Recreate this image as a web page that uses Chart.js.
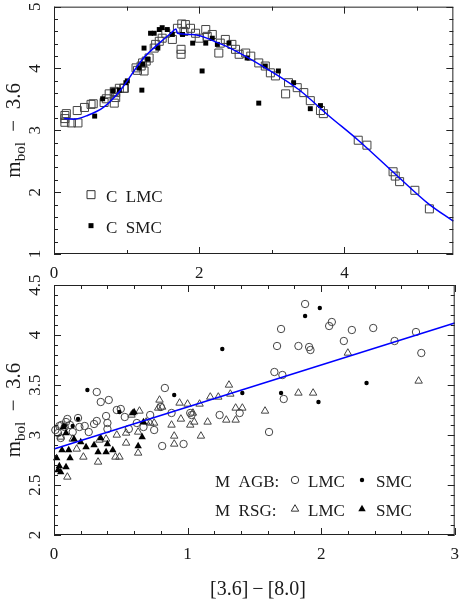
<!DOCTYPE html>
<html>
<head>
<meta charset="utf-8">
<script src="https://cdn.jsdelivr.net/npm/chart.js@4/dist/chart.umd.min.js"></script>
<style>
  body { margin: 0; background: #fff; }
  .wrap { position: relative; width: 460px; height: 600px; }
  canvas { position: absolute; left: 0; }
  #top-panel { top: 0; }
  #bottom-panel { top: 262px; }
</style>
</head>
<body>
<div class="wrap">
<canvas id="top-panel" width="460" height="280"></canvas>
<canvas id="bottom-panel" width="460" height="338"></canvas>
</div>
<script>
// top panel: carbon stars
var cLmcX = [0.15, 0.15, 0.15, 0.17, 0.24, 0.33, 0.32, 0.42, 0.51, 0.54, 0.69, 0.72, 0.76, 0.83, 0.85, 0.83, 0.90, 0.96, 0.97, 0.85,
  1.13, 1.15, 1.20, 1.24, 1.27, 1.22, 1.31, 1.38, 1.40, 1.45, 1.49, 1.54, 1.63, 1.75, 1.75, 1.70, 1.76, 1.81, 1.79, 1.88,
  1.95, 2.00, 2.09, 2.11, 2.18, 2.27, 2.29, 2.36, 2.45, 2.50, 2.55, 2.64, 2.71, 2.82, 2.91, 2.98, 3.05, 3.19, 3.23, 3.35,
  3.44, 3.53, 3.67, 3.71, 4.19, 4.31, 4.67, 4.70, 4.76, 4.97, 5.17];
var cLmcY = [3.24, 3.19, 3.13, 3.27, 3.12, 3.12, 3.32, 3.37, 3.42, 3.43, 3.45, 3.51, 3.59, 3.44, 3.53, 3.63, 3.68, 3.68, 3.68, 3.61,
  4.01, 3.97, 4.04, 3.96, 4.12, 4.09, 4.17, 4.33, 4.39, 4.44, 4.49, 4.57, 4.47, 4.31, 4.23, 4.65, 4.72, 4.71, 4.60, 4.65,
  4.57, 4.49, 4.63, 4.52, 4.55, 4.25, 4.41, 4.47, 4.39, 4.31, 4.23, 4.25, 4.20, 4.09, 4.04, 3.93, 3.88, 3.59, 3.77, 3.69,
  3.61, 3.48, 3.32, 3.27, 2.84, 2.76, 2.33, 2.26, 2.17, 2.03, 1.73];
var cSmcX = [0.56, 0.67, 0.81, 0.90, 0.99, 1.01, 1.21, 1.17, 1.22, 1.29, 1.24, 1.33, 1.38, 1.45, 1.49, 1.56, 1.43, 1.77, 1.91, 2.04,
  2.09, 2.25, 2.41, 2.66, 2.82, 2.91, 3.09, 3.30, 3.53, 3.67, 2.18, 1.63];
var cSmcY = [3.23, 3.51, 3.64, 3.65, 3.77, 3.80, 3.65, 4.01, 4.07, 4.15, 4.33, 4.57, 4.57, 4.63, 4.66, 4.63, 4.33, 4.55, 4.41, 3.96,
  4.41, 4.39, 4.41, 4.17, 3.44, 4.04, 3.96, 3.77, 3.35, 3.40, 4.49, 4.55];
var fitTopX = [0.14, 0.27, 0.46, 0.68, 0.91, 1.22, 1.45, 1.61, 1.68, 1.70, 1.91, 2.27, 2.46, 2.91, 3.37, 3.78, 4.19, 4.74, 5.15, 5.5];
var fitTopY = [3.19, 3.18, 3.24, 3.37, 3.64, 4.15, 4.41, 4.57, 4.64, 4.57, 4.55, 4.41, 4.31, 4.01, 3.66, 3.24, 2.84, 2.25, 1.82, 1.53];

// bottom panel: M-type stars
var agbLmcX = [0.01, 0.05, 0.055, 0.10, 0.18, 0.23, 0.26, 0.30, 0.32, 0.32, 0.35, 0.41, 0.39, 0.40, 0.40, 0.47, 0.50, 0.53, 0.56, 0.62,
  0.67, 0.72, 0.75, 0.81, 0.83, 0.80, 0.88, 0.97, 1.02, 1.03, 1.24, 1.39, 1.61, 1.65, 1.71, 1.72, 1.67, 1.70, 1.83, 1.88,
  1.91, 1.92, 2.06, 2.08, 2.17, 2.23, 2.39, 2.55, 2.71, 2.75, 0.04, 0.08, 0.12, 0.14, 0.19, 0.03, 0.09];
var agbLmcY = [3.05, 2.97, 3.10, 3.16, 3.17, 3.09, 3.03, 3.11, 3.14, 3.43, 3.33, 3.35, 3.19, 3.12, 3.06, 3.25, 3.26, 3.18, 3.06, 3.12,
  3.08, 3.20, 3.05, 2.89, 3.47, 3.28, 3.22, 2.91, 3.22, 3.20, 3.20, 3.22, 3.03, 3.63, 3.60, 3.36, 3.89, 4.06, 3.89, 4.31,
  3.88, 3.85, 4.09, 4.13, 3.94, 4.05, 4.07, 3.94, 4.03, 3.82, 3.09, 3.08, 3.10, 3.03, 3.08, 3.02, 3.13];
var agbSmcX = [0.25, 0.18, 0.14, 0.08, 0.49, 0.90, 1.26, 1.41, 1.70, 1.88, 1.99, 1.98, 2.34];
var agbSmcY = [3.45, 3.16, 3.09, 3.09, 3.23, 3.40, 3.86, 3.42, 3.42, 4.19, 4.27, 3.33, 3.52];
var rsgLmcX = [0.10, 0.05, 0.14, 0.17, 0.22, 0.33, 0.34, 0.39, 0.47, 0.46, 0.49, 0.54, 0.54, 0.58, 0.64, 0.63, 0.63, 0.69, 0.72, 0.75,
  0.79, 0.78, 0.81, 0.88, 0.90, 0.90, 0.94, 0.95, 1.00, 1.02, 1.04, 1.05, 1.09, 1.10, 1.15, 1.17, 1.23, 1.29, 1.31, 1.32,
  1.36, 1.36, 1.41, 1.58, 1.83, 1.94, 2.20, 2.73];
var rsgLmcY = [2.58, 2.98, 2.96, 2.86, 2.78, 2.73, 2.95, 2.96, 3.00, 2.78, 2.78, 3.02, 2.92, 3.20, 3.24, 3.03, 2.82, 3.13, 3.12, 3.12,
  3.35, 3.27, 3.28, 3.10, 2.99, 2.91, 3.32, 3.16, 3.31, 3.10, 3.22, 3.13, 3.31, 2.99, 3.13, 3.38, 3.38, 3.15, 3.50, 3.41,
  3.15, 3.27, 3.27, 3.24, 3.42, 3.42, 3.82, 3.54];
var rsgSmcX = [0.02, 0.04, 0.05, 0.09, 0.06, 0.11, 0.12, 0.09, 0.07, 0.15, 0.20, 0.24, 0.30, 0.33, 0.35, 0.39, 0.40, 0.44, 0.59, 0.63,
  0.66, 0.67, 0.60, 0.03];
var rsgSmcY = [2.77, 2.69, 2.63, 2.68, 2.85, 2.85, 2.77, 3.02, 3.08, 2.96, 2.93, 2.88, 2.90, 2.83, 2.97, 2.83, 2.91, 2.85, 3.22, 2.89,
  2.98, 3.13, 3.23, 2.65];
var fitBotX = [0, 3];
var fitBotY = [2.86, 4.12];

// tick labels
var topXTicks = ['0', '2', '4'];
var topYTicks = ['1', '2', '3', '4', '5'];
var botXTicks = ['0', '1', '2', '3'];
var botYTicks = ['2', '2.5', '3', '3.5', '4', '4.5'];

var INK = '#1a1a1a';
var SERIF = '"Liberation Serif", "Times New Roman", serif';

function zip(xs, ys) {
  return xs.map(function (x, i) { return { x: x, y: ys[i] }; });
}

function symbol(ctx, kind, x, y) {
  ctx.save();
  ctx.strokeStyle = '#333';
  ctx.fillStyle = '#000';
  ctx.lineWidth = 1;
  ctx.beginPath();
  if (kind == 'openSquare') {
    ctx.rect(x - 4, y - 4, 8, 8); ctx.stroke();
  } else if (kind == 'filledSquare') {
    ctx.rect(x - 2.5, y - 2.5, 5, 5); ctx.fill();
  } else if (kind == 'openCircle') {
    ctx.arc(x, y, 3.7, 0, Math.PI * 2); ctx.stroke();
  } else if (kind == 'dot') {
    ctx.arc(x, y, 2.2, 0, Math.PI * 2); ctx.fill();
  } else {
    var r = 4.3;
    ctx.moveTo(x, y - r);
    ctx.lineTo(x + r * 0.866, y + r * 0.5);
    ctx.lineTo(x - r * 0.866, y + r * 0.5);
    ctx.closePath();
    if (kind == 'openTriangle') ctx.stroke(); else ctx.fill();
  }
  ctx.restore();
}

// frame with inward ticks on all sides, rotated y labels, titles, legend
function framePlugin(o) {
  return {
    id: 'frame',
    afterDraw: function (chart) {
      var ctx = chart.ctx, a = chart.chartArea, xs = chart.scales.x, ys = chart.scales.y;
      ctx.save();
      ctx.strokeStyle = '#222';
      ctx.lineWidth = 1;
      ctx.strokeRect(a.left + 0.5, a.top + 0.5, a.right - a.left - 1, a.bottom - a.top - 1);

      function ticks(scale, minor, major, horiz) {
        var n = Math.round((scale.max - scale.min) / minor);
        for (var i = 0; i <= n; i++) {
          var v = scale.min + i * minor;
          var isMajor = Math.abs(v / major - Math.round(v / major)) < 1e-6;
          var len = isMajor ? 7 : 4;
          var p = Math.round(scale.getPixelForValue(v)) + 0.5;
          ctx.beginPath();
          if (horiz) {
            ctx.moveTo(p, a.bottom); ctx.lineTo(p, a.bottom - len);
            ctx.moveTo(p, a.top); ctx.lineTo(p, a.top + len);
          } else {
            ctx.moveTo(a.left, p); ctx.lineTo(a.left + len, p);
            ctx.moveTo(a.right, p); ctx.lineTo(a.right - len, p);
          }
          ctx.stroke();
        }
      }
      ticks(xs, o.xMinor, o.xMajor, true);
      ticks(ys, o.yMinor, o.yMajor, false);

      ctx.fillStyle = INK;
      ctx.font = '17px ' + SERIF;
      ctx.textAlign = 'center';
      ctx.textBaseline = 'alphabetic';
      o.xLabels.forEach(function (t) {
        ctx.fillText(t, xs.getPixelForValue(parseFloat(t)), a.bottom + 24);
      });
      o.yLabels.forEach(function (t) {
        ctx.save();
        ctx.translate(40, ys.getPixelForValue(parseFloat(t)));
        ctx.rotate(-Math.PI / 2);
        ctx.fillText(t, 0, 0);
        ctx.restore();
      });

      // y title: m_bol - 3.6
      ctx.save();
      ctx.translate(20, (a.top + a.bottom) / 2);
      ctx.rotate(-Math.PI / 2);
      ctx.textAlign = 'left';
      var big = '21px ' + SERIF, small = '15px ' + SERIF;
      ctx.font = big; var wm = ctx.measureText('m').width;
      ctx.font = small; var wb = ctx.measureText('bol').width;
      ctx.font = big; var wr = ctx.measureText('  \u2212  3.6').width;
      var x0 = -(wm + wb + wr) / 2;
      ctx.font = big; ctx.fillText('m', x0, 0);
      ctx.font = small; ctx.fillText('bol', x0 + wm, 5);
      ctx.font = big; ctx.fillText('  \u2212  3.6', x0 + wm + wb, 0);
      ctx.restore();

      if (o.xTitle) {
        ctx.font = '20px ' + SERIF;
        ctx.textAlign = 'center';
        ctx.fillText(o.xTitle, 258, a.bottom + 60);
      }

      ctx.font = '17px ' + SERIF;
      ctx.textAlign = 'left';
      o.legend.forEach(function (row) {
        var y = a.top + row.dy;
        if (row.head) ctx.fillText(row.head, row.headX, y + 7);
        row.items.forEach(function (it) {
          symbol(ctx, it.sym, it.sx, y);
          ctx.fillText(it.text, it.tx, y + 7);
        });
      });
      ctx.restore();
    }
  };
}

function baseOptions(pad, xr, yr) {
  return {
    responsive: false,
    animation: false,
    layout: { padding: pad },
    plugins: { legend: { display: false }, tooltip: { enabled: false } },
    scales: {
      x: { type: 'linear', min: xr[0], max: xr[1], display: false },
      y: { type: 'linear', min: yr[0], max: yr[1], display: false }
    }
  };
}

function fitLine(xs, ys) {
  return {
    type: 'line', data: zip(xs, ys), showLine: true, fill: false,
    borderColor: '#0000ff', borderWidth: 1.5, pointRadius: 0,
    cubicInterpolationMode: 'monotone', clip: false
  };
}

function createTopPanel() {
  var ctx = document.getElementById('top-panel').getContext('2d');
  new Chart(ctx, {
    type: 'scatter',
    data: {
      datasets: [
        fitLine(fitTopX, fitTopY),
        { label: 'C SMC', data: zip(cSmcX, cSmcY), pointStyle: 'rect', pointRadius: 3.5,
          backgroundColor: '#000', borderColor: '#000', borderWidth: 0, clip: false },
        { label: 'C LMC', data: zip(cLmcX, cLmcY), pointStyle: 'rect', pointRadius: 5.66,
          backgroundColor: 'rgba(0,0,0,0)', borderColor: '#444', borderWidth: 1, clip: false }
      ]
    },
    options: baseOptions({ left: 54, right: 5, top: 5, bottom: 26 }, [0, 5.5], [1, 5]),
    plugins: [framePlugin({
      xMinor: 1, xMajor: 2, yMinor: 0.2, yMajor: 1,
      xLabels: topXTicks, yLabels: topYTicks,
      legend: [
        { dy: 188, items: [{ sym: 'openSquare', sx: 91, text: 'C  LMC', tx: 106 }] },
        { dy: 219, items: [{ sym: 'filledSquare', sx: 91, text: 'C  SMC', tx: 106 }] }
      ]
    })]
  });
}

function createBottomPanel() {
  var ctx = document.getElementById('bottom-panel').getContext('2d');
  new Chart(ctx, {
    type: 'scatter',
    data: {
      datasets: [
        fitLine(fitBotX, fitBotY),
        { label: 'RSG SMC', data: zip(rsgSmcX, rsgSmcY), pointStyle: 'triangle', pointRadius: 4.3,
          backgroundColor: '#000', borderColor: '#000', borderWidth: 0, clip: false },
        { label: 'AGB SMC', data: zip(agbSmcX, agbSmcY), pointStyle: 'circle', pointRadius: 2.2,
          backgroundColor: '#000', borderColor: '#000', borderWidth: 0, clip: false },
        { label: 'RSG LMC', data: zip(rsgLmcX, rsgLmcY), pointStyle: 'triangle', pointRadius: 4.3,
          backgroundColor: 'rgba(0,0,0,0)', borderColor: '#444', borderWidth: 1, clip: false },
        { label: 'AGB LMC', data: zip(agbLmcX, agbLmcY), pointStyle: 'circle', pointRadius: 3.7,
          backgroundColor: 'rgba(0,0,0,0)', borderColor: '#444', borderWidth: 1, clip: false }
      ]
    },
    options: baseOptions({ left: 54, right: 5, top: 23, bottom: 65 }, [0, 3], [2, 4.5]),
    plugins: [framePlugin({
      xMinor: 0.2, xMajor: 1, yMinor: 0.1, yMajor: 0.5,
      xLabels: botXTicks, yLabels: botYTicks,
      xTitle: '[3.6]\u2009\u2212\u2009[8.0]',
      legend: [
        { dy: 195, head: 'M  AGB:', headX: 215, items: [
          { sym: 'openCircle', sx: 295, text: 'LMC', tx: 308 },
          { sym: 'dot', sx: 362, text: 'SMC', tx: 376 }] },
        { dy: 224, head: 'M  RSG:', headX: 215, items: [
          { sym: 'openTriangle', sx: 295, text: 'LMC', tx: 308 },
          { sym: 'filledTriangle', sx: 362, text: 'SMC', tx: 376 }] }
      ]
    })]
  });
}

window.addEventListener('load', function () {
  createTopPanel();
  createBottomPanel();
});
</script>
</body>
</html>
